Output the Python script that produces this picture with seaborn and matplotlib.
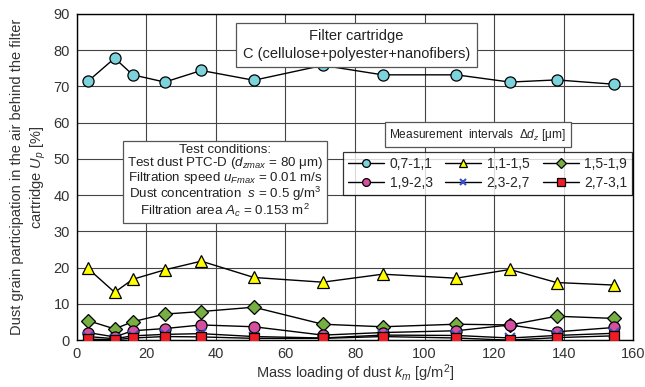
import matplotlib
matplotlib.use("Agg")
import matplotlib.pyplot as plt
import seaborn as sns
import pandas as pd

sns.set_style("white")
plt.rcParams['font.family'] = ['Liberation Sans', 'DejaVu Sans']
plt.rcParams['mathtext.fontset'] = 'custom'
plt.rcParams['mathtext.it'] = 'Liberation Sans:italic'
plt.rcParams['mathtext.rm'] = 'Liberation Sans'

km = [3.2, 10.9, 16.1, 25.3, 35.8, 50.9, 70.7, 87.9, 109.1, 124.5, 137.9, 154.5]
s_07_11 = [71.4, 77.8, 73.2, 71.2, 74.4, 71.7, 75.8, 73.2, 73.2, 71.2, 71.8, 70.6]
s_11_15 = [19.8, 13.2, 16.8, 19.4, 21.8, 17.3, 16.0, 18.2, 17.1, 19.5, 15.9, 15.2]
s_15_19 = [5.4, 3.1, 5.1, 7.2, 7.9, 9.1, 4.4, 3.7, 4.4, 4.2, 6.6, 6.0]
s_19_23 = [2.1, 0.9, 2.6, 3.2, 4.2, 3.7, 1.4, 2.1, 2.6, 4.2, 2.3, 3.5]
s_23_27 = [1.0, 0.4, 1.2, 1.6, 1.8, 1.0, 0.6, 1.4, 1.3, 0.6, 1.3, 1.9]
s_27_31 = [0.3, 0.1, 0.6, 1.0, 0.9, 0.5, 0.5, 1.0, 0.6, 0.0, 0.7, 1.2]
labels = ["0,7-1,1", "1,1-1,5", "1,5-1,9", "1,9-2,3", "2,3-2,7", "2,7-3,1"]

series = [s_07_11, s_11_15, s_15_19, s_19_23, s_23_27, s_27_31]
markers = ['o', '^', 'D', 'o', 'x', 's']
facecolors = ['#7dd3dc', '#ffff00', '#76b043', '#d4509f', '#3a4fc4', '#ee1c24']
msizes = [8, 8.5, 7, 8, 7, 7.5]

fig = plt.figure(figsize=(6.45, 3.87), dpi=100)
ax = fig.add_axes([0.119, 0.121, 0.863, 0.843])

for vals, lab, m, fc, ms in zip(series, labels, markers, facecolors, msizes):
    df = pd.DataFrame({"km": km, "U": vals})
    if m == 'x':
        sns.lineplot(data=df, x="km", y="U", ax=ax, color='black', lw=1.0,
                     marker=m, markersize=ms, markeredgecolor=fc, markeredgewidth=1.5,
                     label=lab, zorder=3)
    else:
        sns.lineplot(data=df, x="km", y="U", ax=ax, color='black', lw=1.0,
                     marker=m, markersize=ms, markerfacecolor=fc, markeredgecolor='black',
                     markeredgewidth=0.9, label=lab, zorder=3)

ax.set_xlim(0, 160)
ax.set_ylim(0, 90)
ax.set_xticks(range(0, 161, 20))
ax.set_yticks(range(0, 91, 10))
ax.grid(True, color='#444444', lw=0.8)
ax.set_axisbelow(True)
for sp in ax.spines.values():
    sp.set_color('black')
    sp.set_linewidth(1.0)
ax.tick_params(axis='both', labelsize=10.5, colors='#333333', length=0, pad=5)

ax.set_xlabel(r"Mass loading of dust $k_m$ [g/m$^2$]", fontsize=10.5, color='#333333', labelpad=1)
ax.set_ylabel("Dust grain participation in the air behind the filter\n"
              r"cartridge $U_p$ [%]", fontsize=10.5, color='#333333', labelpad=4,
              linespacing=1.35)

handles, labs = ax.get_legend_handles_labels()
order = [0, 3, 1, 4, 2, 5]
leg = ax.legend([handles[i] for i in order], [labs[i] for i in order],
                ncol=3, loc='upper left', bbox_to_anchor=(343/645, 1 - 152/387),
                bbox_transform=fig.transFigure, fontsize=10, frameon=True,
                fancybox=False, edgecolor='black', handlelength=2.6, markerscale=0.7,
                columnspacing=0.9, handletextpad=0.4, borderpad=0.35, labelspacing=0.35,
                borderaxespad=0)
leg.get_frame().set_linewidth(0.9)
leg.set_zorder(5)

ax.text(0.553, 0.884, "Filter cartridge\nC (cellulose+polyester+nanofibers)",
        transform=fig.transFigure, ha='center', va='center', fontsize=10.5,
        color='#222222', linespacing=1.3, zorder=6,
        bbox=dict(boxstyle='square,pad=0.45', fc='white', ec='#555555', lw=0.9))

ax.text(0.741, 0.652, r"Measurement  intervals  $\Delta d_z$ [$\mathregular{\mu}$m]",
        transform=fig.transFigure, ha='center', va='center', fontsize=8.6,
        color='#222222', zorder=6,
        bbox=dict(boxstyle='square,pad=0.4', fc='white', ec='#555555', lw=0.9))

ax.text(0.349, 0.531,
        "Test conditions:\n"
        r"Test dust PTC-D ($d_{zmax}$ = 80 μm)" "\n"
        r"Filtration speed $u_{Fmax}$ = 0.01 m/s" "\n"
        r"Dust concentration  $s$ = 0.5 g/m$^3$" "\n"
        r"Filtration area $A_c$ = 0.153 m$^2$",
        transform=fig.transFigure, ha='center', va='center', fontsize=9.6,
        color='#222222', linespacing=0.92, zorder=6,
        bbox=dict(boxstyle='square,pad=0.3', fc='white', ec='#555555', lw=0.9))

fig.savefig("out.png", dpi=100)
